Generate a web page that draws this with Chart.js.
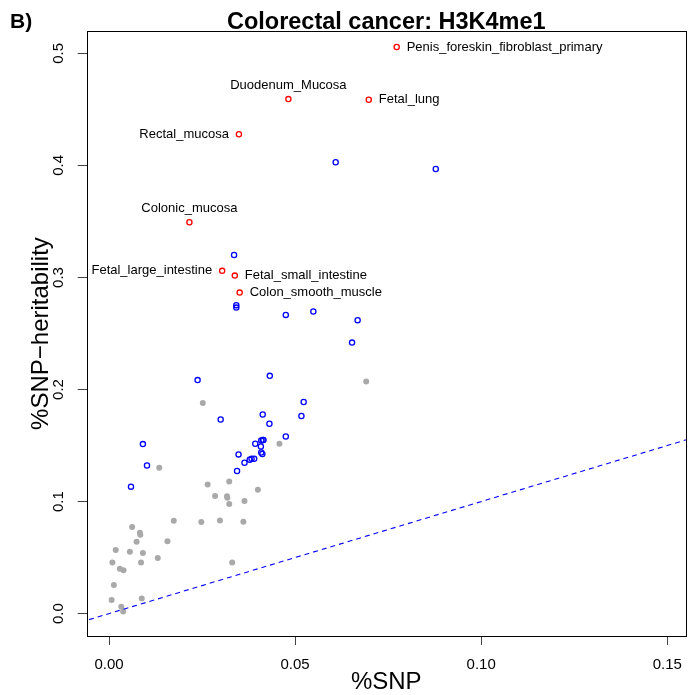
<!DOCTYPE html>
<html>
<head>
<meta charset="utf-8">
<title>Colorectal cancer: H3K4me1</title>
<script src="https://cdn.jsdelivr.net/npm/chart.js@4.4.1/dist/chart.umd.min.js"></script>
<style>
  html, body { margin: 0; padding: 0; background: #fff; }
  canvas { display: block; }
</style>
</head>
<body>
<canvas id="chart" width="693" height="695" style="width:693px;height:695px"></canvas>
<script>
// labelled tissues (red open circles)
const redNames = [
  "Penis_foreskin_fibroblast_primary", "Duodenum_Mucosa", "Fetal_lung", "Rectal_mucosa",
  "Colonic_mucosa", "Fetal_large_intestine", "Fetal_small_intestine", "Colon_smooth_muscle"
];
const redX = [0.0773, 0.0482, 0.0698, 0.0349, 0.0216, 0.0304, 0.0338, 0.0351];
const redY = [0.5057, 0.4592, 0.4586, 0.4278, 0.3493, 0.3059, 0.3017, 0.2865];
const redPos = ["right", "above", "right", "left", "above", "left", "right", "right"];

// other significant annotations (blue open circles)
const blueX = [
  0.0609, 0.0878, 0.0336, 0.0342, 0.0342, 0.0475, 0.0549, 0.0668, 0.0653, 0.0238, 0.0432,
  0.0300, 0.0413, 0.0431, 0.0475, 0.0091, 0.0102, 0.0059, 0.0393, 0.0409, 0.0413, 0.0415,
  0.0408, 0.0409, 0.0412, 0.0348, 0.0364, 0.0378, 0.0383, 0.0390, 0.0344, 0.0523, 0.0517
];
const blueY = [
  0.4028, 0.3968, 0.3201, 0.2753, 0.2731, 0.2666, 0.2696, 0.2619, 0.2419, 0.2084, 0.2122,
  0.1733, 0.1777, 0.1694, 0.1581, 0.1513, 0.1322, 0.1133, 0.1516, 0.1545, 0.1549, 0.1549,
  0.1492, 0.1438, 0.1424, 0.1421, 0.1347, 0.1373, 0.1382, 0.1382, 0.1273, 0.1888, 0.1763
];

// non-significant annotations (grey dots)
const grayX = [
  0.0252, 0.0458, 0.0135, 0.0265, 0.0323, 0.0400, 0.0285, 0.0317, 0.0318, 0.0364, 0.0323,
  0.0174, 0.0248, 0.0298, 0.0361, 0.0062, 0.0083, 0.0084, 0.0074, 0.0157, 0.0018, 0.0056,
  0.0091, 0.0131, 0.0009, 0.0086, 0.0029, 0.0039, 0.0331, 0.0013, 0.0007, 0.0088, 0.0033,
  0.0038, 0.0691
];
const grayY = [
  0.1879, 0.1516, 0.1302, 0.1153, 0.1180, 0.1106, 0.1050, 0.1048, 0.1034, 0.1005, 0.0978,
  0.0829, 0.0818, 0.0832, 0.0820, 0.0773, 0.0722, 0.0704, 0.0642, 0.0645, 0.0568, 0.0553,
  0.0541, 0.0497, 0.0457, 0.0455, 0.0401, 0.0386, 0.0455, 0.0256, 0.0122, 0.0134, 0.0062,
  0.0018, 0.2072
];

// y = x reference line
const refX = [-0.01, 0.2];

const xTicks = [0, 0.05, 0.10, 0.15];
const yTicks = [0, 0.1, 0.2, 0.3, 0.4, 0.5];

const FONT = '"Liberation Sans", Arial, Helvetica, sans-serif';

function toPoints(xs, ys) {
  return xs.map((x, i) => ({ x: x, y: ys[i] }));
}

// R-style decorations: box, rotated y labels, titles, point labels
const rDecor = {
  id: "rDecor",
  afterDraw(chart) {
    const ctx = chart.ctx;
    const a = chart.chartArea;
    const xs = chart.scales.x;
    const ys = chart.scales.y;

    ctx.save();
    ctx.strokeStyle = "#000";
    ctx.lineWidth = 1;
    ctx.strokeRect(Math.round(a.left) + 0.5, Math.round(a.top) + 0.5,
      Math.round(a.right - a.left), Math.round(a.bottom - a.top));

    ctx.fillStyle = "#000";

    // y tick labels, rotated like R's las=0
    ctx.font = "15px " + FONT;
    ctx.textAlign = "center";
    ctx.textBaseline = "middle";
    yTicks.forEach(v => {
      const py = ys.getPixelForValue(v);
      ctx.save();
      ctx.translate(59, py);
      ctx.rotate(-Math.PI / 2);
      ctx.fillText(v.toFixed(1), 0, 0);
      ctx.restore();
    });

    // axis titles
    const cx = (a.left + a.right) / 2;
    const cy = (a.top + a.bottom) / 2;
    ctx.font = "24px " + FONT;
    ctx.textBaseline = "alphabetic";
    ctx.fillText("%SNP", cx, 689);
    ctx.save();
    ctx.translate(48, cy);
    ctx.rotate(-Math.PI / 2);
    ctx.fillText("%SNP\u2212heritability", 0, 0);
    ctx.restore();

    // main title and panel letter
    ctx.font = "bold 23.5px " + FONT;
    ctx.fillText("Colorectal cancer: H3K4me1", cx, 29);
    ctx.textAlign = "left";
    ctx.font = "bold 21px " + FONT;
    ctx.fillText("B)", 10, 28);

    // labels next to the red points
    ctx.font = "13px " + FONT;
    ctx.textBaseline = "middle";
    redNames.forEach((name, i) => {
      const px = xs.getPixelForValue(redX[i]);
      const py = ys.getPixelForValue(redY[i]);
      if (redPos[i] === "above") {
        ctx.textAlign = "center";
        ctx.fillText(name, px, py - 14);
      } else if (redPos[i] === "left") {
        ctx.textAlign = "right";
        ctx.fillText(name, px - 10, py);
      } else {
        ctx.textAlign = "left";
        ctx.fillText(name, px + 10, py);
      }
    });
    ctx.restore();
  }
};

const ctx = document.getElementById("chart");

new Chart(ctx, {
  type: "scatter",
  data: {
    datasets: [
      {
        type: "line",
        data: toPoints(refX, refX),
        borderColor: "#0000FF",
        borderWidth: 1.1,
        borderDash: [5, 4],
        pointRadius: 0,
        fill: false,
        order: 0
      },
      {
        data: toPoints(redX, redY),
        pointStyle: "circle",
        pointRadius: 2.6,
        borderWidth: 1.3,
        borderColor: "#FF0000",
        backgroundColor: "rgba(0,0,0,0)",
        order: 1
      },
      {
        data: toPoints(blueX, blueY),
        pointStyle: "circle",
        pointRadius: 2.6,
        borderWidth: 1.3,
        borderColor: "#0000FF",
        backgroundColor: "rgba(0,0,0,0)",
        order: 2
      },
      {
        data: toPoints(grayX, grayY),
        pointStyle: "circle",
        pointRadius: 3,
        borderWidth: 0,
        backgroundColor: "#A9A9A9",
        order: 3
      }
    ]
  },
  options: {
    responsive: false,
    animation: false,
    events: [],
    layout: { padding: { top: 31, right: 4.7, left: 0, bottom: 0 } },
    plugins: {
      legend: { display: false },
      tooltip: { enabled: false },
      title: { display: false }
    },
    scales: {
      x: {
        type: "linear",
        min: -0.006,
        max: 0.155,
        afterBuildTicks: s => { s.ticks = xTicks.map(v => ({ value: v })); },
        afterFit: s => { s.height = 59; },
        border: { display: false },
        grid: { drawOnChartArea: false, drawTicks: true, tickLength: 9, color: "#444" },
        ticks: {
          autoSkip: false,
          maxRotation: 0,
          padding: 11,
          color: "#000",
          font: { family: FONT, size: 15 },
          callback: v => v.toFixed(2)
        }
      },
      y: {
        type: "linear",
        min: -0.02,
        max: 0.52,
        afterBuildTicks: s => { s.ticks = yTicks.map(v => ({ value: v })); },
        afterFit: s => { s.width = 86.7; },
        border: { display: false },
        grid: { drawOnChartArea: false, drawTicks: true, tickLength: 9, color: "#444" },
        ticks: { display: false }
      }
    }
  },
  plugins: [rDecor]
});
</script>
</body>
</html>
